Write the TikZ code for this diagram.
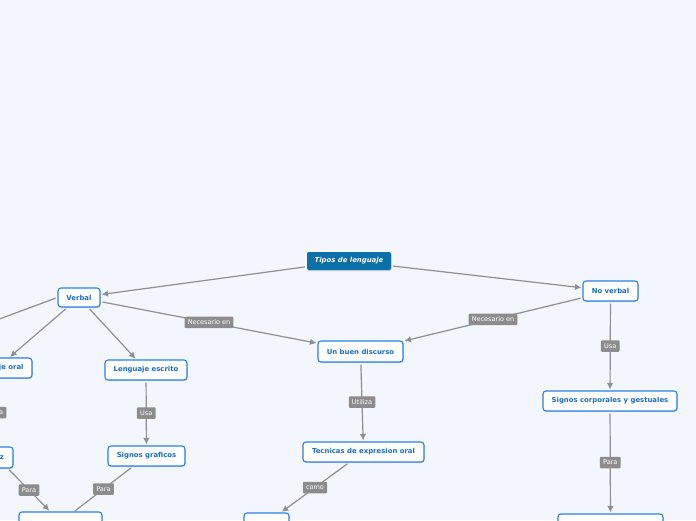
\documentclass[tikz,border=0pt]{standalone}
\usepackage{fontspec}
\setmainfont{DejaVu Sans}
\usetikzlibrary{arrows.meta,shadows}
\definecolor{bg}{HTML}{F3F6FD}
\definecolor{nodeblue}{HTML}{2B80E2}
\definecolor{textblue}{HTML}{1B6CCB}
\definecolor{rootblue}{HTML}{0B70A8}
\definecolor{lblgray}{HTML}{8C8C8C}
\definecolor{linegray}{HTML}{8E8E96}
\begin{document}
\begin{tikzpicture}[x=1pt,y=-1pt,
  concept/.style={draw=nodeblue, line width=1.1pt, fill=white, rounded corners=3pt,
    text=textblue, font=\fontsize{6.9}{8}\selectfont\bfseries, inner sep=0pt, align=center,
    drop shadow={shadow xshift=0.6pt, shadow yshift=-1pt, opacity=0.25, fill=black!60}},
  rootnode/.style={fill=rootblue, rounded corners=2pt, text=white,
    font=\fontsize{6.9}{8}\selectfont\bfseries\itshape, inner sep=0pt,
    drop shadow={shadow xshift=0.6pt, shadow yshift=-1pt, opacity=0.25, fill=black!60}},
  lbl/.style={fill=lblgray, text=white, font=\fontsize{6.5}{7}\selectfont, inner xsep=3.2pt,
    inner ysep=0pt, minimum height=11.5pt, rounded corners=1pt},
  link/.style={draw=linegray, line width=1.2pt, shorten <=2pt, shorten >=1pt,
    -{Latex[length=6.5pt,width=6.5pt]}},
  plainlink/.style={draw=linegray, line width=1.2pt, shorten <=2pt, shorten >=1pt}
]
\useasboundingbox (0,0) rectangle (696,520);
\fill[bg] (0,0) rectangle (696,520);
\clip (0,0) rectangle (696,520);

% nodes
\node[rootnode, minimum width=84pt, minimum height=18pt] (root) at (349,261) {Tipos de lenguaje};
\node[concept, minimum width=42pt, minimum height=19pt] (verbal) at (79,297.5) {Verbal};
\node[concept, minimum width=55pt, minimum height=20pt] (noverbal) at (610.5,291) {No verbal};
\node[concept, minimum width=85pt, minimum height=21pt] (discurso) at (360.5,351.5) {Un buen discurso};
\node[concept, minimum width=70pt, minimum height=20pt] (oral) at (-3,368) {Lenguaje oral};
\node[concept, minimum width=82pt, minimum height=20pt] (escrito) at (146,370) {Lenguaje escrito};
\node[concept, minimum width=77pt, minimum height=20pt] (graficos) at (146.5,456) {Signos graficos};
\node[concept, minimum width=32pt, minimum height=21pt] (voz) at (-3,457.5) {Voz};
\node[concept, minimum width=121pt, minimum height=20pt] (tecnicas) at (363.5,452) {Tecnicas de expresion oral};
\node[concept, minimum width=134pt, minimum height=20pt] (corporales) at (610,401) {Signos corporales y gestuales};
\node[concept, minimum width=83pt, minimum height=20pt] (bleft) at (60.5,522) {};
\node[concept, minimum width=45pt, minimum height=20pt] (bmid) at (266.5,523) {};
\node[concept, minimum width=105pt, minimum height=20pt] (bright) at (610.5,524) {};
\coordinate (offleft) at (-60,341);

% connectors
\draw[link] (root) -- (verbal);
\draw[link] (root) -- (noverbal);
\draw[plainlink] (verbal.west) -- (offleft);
\draw[link] (verbal) -- (oral);
\draw[link] (verbal) -- (escrito);
\draw[link] (verbal) -- node[lbl, midway] {Necesario en} (discurso);
\draw[link] (noverbal) -- node[lbl, midway] {Necesario en} (discurso);
\draw[link] (oral) -- node[lbl, midway] {Usa} (voz);
\draw[link] (escrito) -- node[lbl, midway] {Usa} (graficos);
\draw[link] (voz) -- node[lbl, midway] {Para} (bleft);
\draw[plainlink] (graficos) -- node[lbl, midway] {Para} (bleft);
\draw[link] (discurso) -- node[lbl, midway] {Utiliza} (tecnicas);
\draw[link] (tecnicas) -- node[lbl, midway] {como} (bmid);
\draw[link] (noverbal) -- node[lbl, midway] {Usa} (corporales);
\draw[link] (corporales) -- node[lbl, midway] {Para} (bright);
\end{tikzpicture}
\end{document}
